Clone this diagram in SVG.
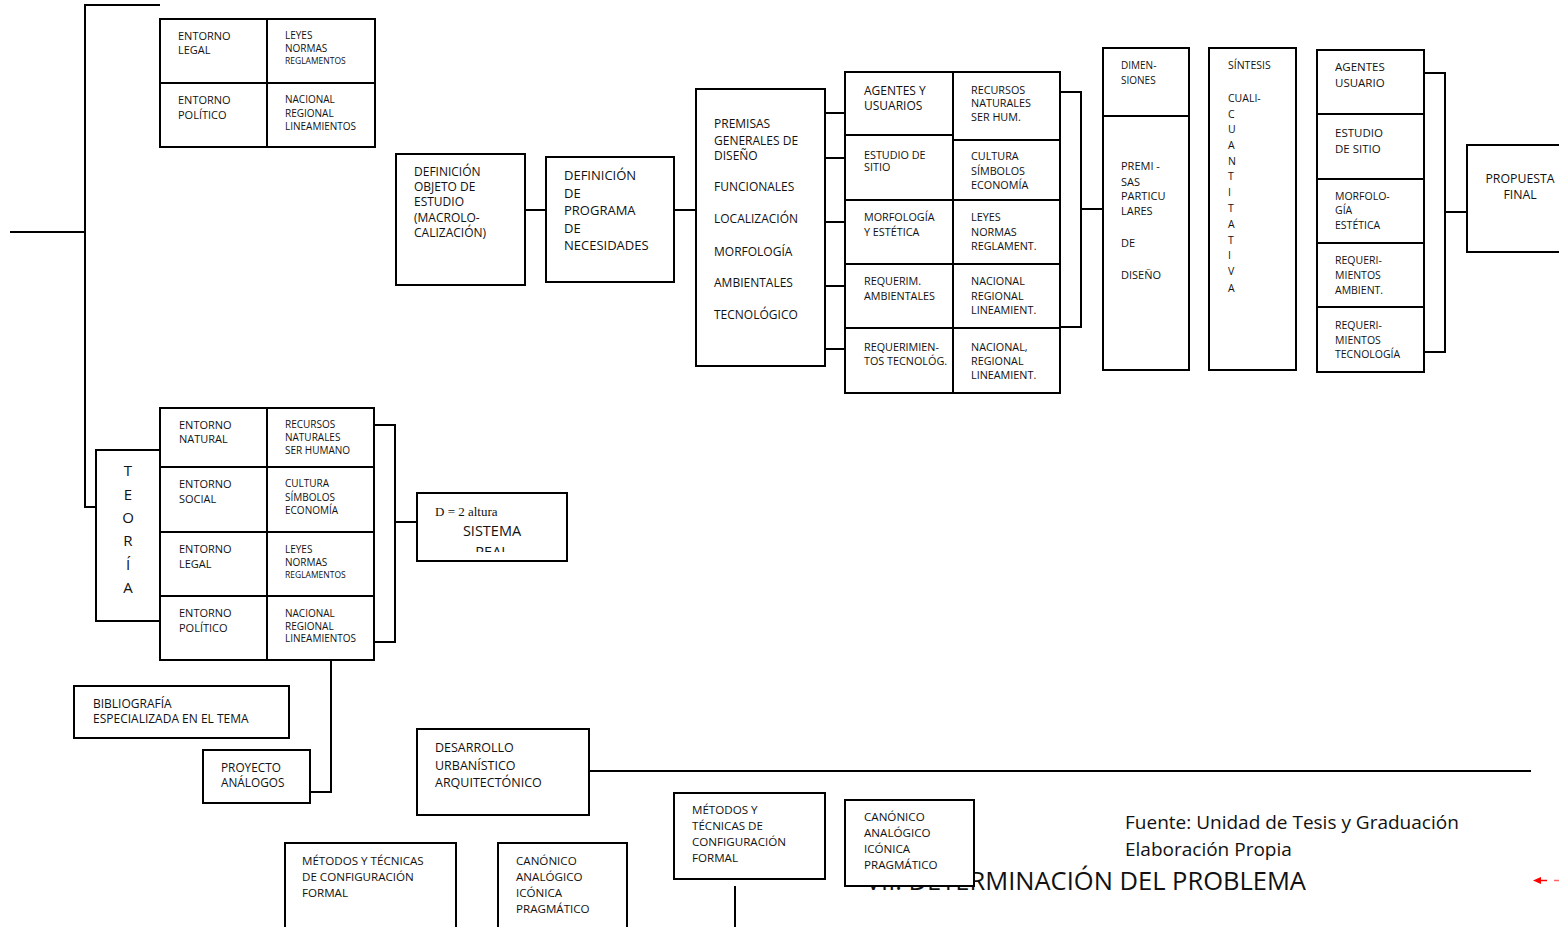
<svg xmlns="http://www.w3.org/2000/svg" width="1559" height="927" viewBox="0 0 1559 927">
<style>
.box{fill:#fff;stroke:#000;stroke-width:2}
.ln{fill:none;stroke:#000;stroke-width:2}
text{font-family:"Open Sans","Noto Sans",sans-serif;fill:#111}
.s9{font-size:8.5px}
.s10{font-size:10px}
.s105{font-size:10.5px}
.s108{font-size:10.8px}
.s11{font-size:11px}
.s115{font-size:11.5px}
.s116{font-size:11.6px}
.s12{font-size:12px}
.s125{font-size:12.5px}
.s13{font-size:13px}
</style>
<defs>
<clipPath id="sisclip"><rect x="417" y="493" width="150" height="59"/></clipPath>
</defs>
<rect width="1559" height="927" fill="#fff"/>

<g id="connectors">
<polyline class="ln" points="160,5 85,5 85,507 96,507"/>
<line class="ln" x1="10" y1="232" x2="85" y2="232"/>
<line class="ln" x1="525" y1="210" x2="546" y2="210"/>
<line class="ln" x1="674" y1="210" x2="696" y2="210"/>
<line class="ln" x1="825" y1="113" x2="845" y2="113"/>
<line class="ln" x1="825" y1="158" x2="845" y2="158"/>
<line class="ln" x1="825" y1="222" x2="845" y2="222"/>
<line class="ln" x1="825" y1="286" x2="845" y2="286"/>
<line class="ln" x1="825" y1="349" x2="845" y2="349"/>
<polyline class="ln" points="1060,92 1081,92 1081,327 1060,327"/>
<line class="ln" x1="1081" y1="209" x2="1103" y2="209"/>
<polyline class="ln" points="1424,73 1445,73 1445,352 1424,352"/>
<line class="ln" x1="1445" y1="212" x2="1467" y2="212"/>
<polyline class="ln" points="374,425 395,425 395,642 374,642"/>
<line class="ln" x1="395" y1="522" x2="417" y2="522"/>
<polyline class="ln" points="331,660 331,792 310,792"/>
<line class="ln" x1="589" y1="771" x2="1531" y2="771"/>
<line class="ln" x1="735" y1="886" x2="735" y2="927"/>
<g id="red-arrow">
<line x1="1538" y1="880.5" x2="1547" y2="880.5" stroke="#f00" stroke-width="1.5"/>
<line x1="1554" y1="880.5" x2="1559" y2="880.5" stroke="#f66" stroke-width="1.5"/>
<polygon points="1533,880.5 1541,877 1541,884" fill="#f00"/>
</g>
</g>

<g id="top-table">
<rect class="box" x="160" y="19" width="215" height="128"/>
<line class="ln" x1="267" y1="19" x2="267" y2="147"/>
<line class="ln" x1="160" y1="83" x2="375" y2="83"/>
<text class="s11"><tspan x="178" y="40">ENTORNO</tspan><tspan x="178" y="54">LEGAL</tspan></text>
<text class="s10"><tspan x="285" y="39">LEYES</tspan><tspan x="285" y="52">NORMAS</tspan><tspan x="285" y="64" class="s9">REGLAMENTOS</tspan></text>
<text class="s11"><tspan x="178" y="104">ENTORNO</tspan><tspan x="178" y="119">POLÍTICO</tspan></text>
<text class="s10"><tspan x="285" y="103">NACIONAL</tspan><tspan x="285" y="116.5">REGIONAL</tspan><tspan x="285" y="130">LINEAMIENTOS</tspan></text>
</g>

<g id="def-objeto">
<rect class="box" x="396" y="154" width="129" height="131"/>
<text class="s12"><tspan x="414" y="176">DEFINICIÓN</tspan><tspan x="414" y="191">OBJETO DE</tspan><tspan x="414" y="206">ESTUDIO</tspan><tspan x="414" y="222">(MACROLO-</tspan><tspan x="414" y="237">CALIZACIÓN)</tspan></text>
</g>

<g id="def-programa">
<rect class="box" x="546" y="157" width="128" height="125"/>
<text class="s13"><tspan x="564" y="180">DEFINICIÓN</tspan><tspan x="564" y="198">DE</tspan><tspan x="564" y="215">PROGRAMA</tspan><tspan x="564" y="233">DE</tspan><tspan x="564" y="250">NECESIDADES</tspan></text>
</g>

<g id="premisas-generales">
<rect class="box" x="696" y="89" width="129" height="277"/>
<text class="s12"><tspan x="714" y="128">PREMISAS</tspan><tspan x="714" y="144.5">GENERALES  DE</tspan><tspan x="714" y="159.5">DISEÑO</tspan><tspan x="714" y="191">FUNCIONALES</tspan><tspan x="714" y="223">LOCALIZACIÓN</tspan><tspan x="714" y="256">MORFOLOGÍA</tspan><tspan x="714" y="287">AMBIENTALES</tspan><tspan x="714" y="319">TECNOLÓGICO</tspan></text>
</g>

<g id="premisas-table">
<rect class="box" x="845" y="72" width="215" height="321"/>
<line class="ln" x1="953" y1="72" x2="953" y2="393"/>
<line class="ln" x1="845" y1="135" x2="953" y2="135"/>
<line class="ln" x1="953" y1="140" x2="1060" y2="140"/>
<line class="ln" x1="845" y1="200" x2="1060" y2="200"/>
<line class="ln" x1="845" y1="264" x2="1060" y2="264"/>
<line class="ln" x1="845" y1="328" x2="1060" y2="328"/>
<text class="s12"><tspan x="864" y="95">AGENTES Y</tspan><tspan x="864" y="109.5">USUARIOS</tspan></text>
<text class="s108"><tspan x="971" y="94">RECURSOS</tspan><tspan x="971" y="107">NATURALES</tspan><tspan x="971" y="120.5">SER  HUM.</tspan></text>
<text class="s108"><tspan x="864" y="158.5">ESTUDIO DE</tspan><tspan x="864" y="171">SITIO</tspan></text>
<text class="s108"><tspan x="971" y="160">CULTURA</tspan><tspan x="971" y="174.5">SÍMBOLOS</tspan><tspan x="971" y="188.5">ECONOMÍA</tspan></text>
<text class="s108"><tspan x="864" y="220.5">MORFOLOGÍA</tspan><tspan x="864" y="236">Y ESTÉTICA</tspan></text>
<text class="s108"><tspan x="971" y="220.5">LEYES</tspan><tspan x="971" y="235.5">NORMAS</tspan><tspan x="971" y="249.5">REGLAMENT.</tspan></text>
<text class="s108"><tspan x="864" y="284.5">REQUERIM.</tspan><tspan x="864" y="299.5">AMBIENTALES</tspan></text>
<text class="s108"><tspan x="971" y="284.5">NACIONAL</tspan><tspan x="971" y="299.5">REGIONAL</tspan><tspan x="971" y="314">LINEAMIENT.</tspan></text>
<text class="s108"><tspan x="864" y="350.5">REQUERIMIEN-</tspan><tspan x="864" y="365">TOS TECNOLÓG.</tspan></text>
<text class="s108"><tspan x="971" y="350.5">NACIONAL,</tspan><tspan x="971" y="365">REGIONAL</tspan><tspan x="971" y="379">LINEAMIENT.</tspan></text>
</g>

<g id="dimensiones">
<rect class="box" x="1103" y="48" width="86" height="322"/>
<line class="ln" x1="1103" y1="116" x2="1189" y2="116"/>
<text class="s10"><tspan x="1121" y="69">DIMEN-</tspan><tspan x="1121" y="84">SIONES</tspan></text>
<text class="s11"><tspan x="1121" y="170">PREMI -</tspan><tspan x="1121" y="186">SAS</tspan><tspan x="1121" y="200">PARTICU</tspan><tspan x="1121" y="215">LARES</tspan><tspan x="1121" y="246.5">DE</tspan><tspan x="1121" y="278.5">DISEÑO</tspan></text>
</g>

<g id="sintesis">
<rect class="box" x="1209" y="48" width="87" height="322"/>
<text class="s105"><tspan x="1228" y="69">SÍNTESIS</tspan><tspan x="1228" y="101.5">CUALI-</tspan><tspan x="1228" y="117.5">C</tspan><tspan x="1228" y="133">U</tspan><tspan x="1228" y="149">A</tspan><tspan x="1228" y="164.5">N</tspan><tspan x="1228" y="180">T</tspan><tspan x="1228" y="196">I</tspan><tspan x="1228" y="212">T</tspan><tspan x="1228" y="227.5">A</tspan><tspan x="1228" y="243.5">T</tspan><tspan x="1228" y="259">I</tspan><tspan x="1228" y="275">V</tspan><tspan x="1228" y="291.5">A</tspan></text>
</g>

<g id="agentes-col">
<rect class="box" x="1317" y="50" width="107" height="322"/>
<line class="ln" x1="1317" y1="114" x2="1424" y2="114"/>
<line class="ln" x1="1317" y1="179" x2="1424" y2="179"/>
<line class="ln" x1="1317" y1="243" x2="1424" y2="243"/>
<line class="ln" x1="1317" y1="307" x2="1424" y2="307"/>
<text class="s115"><tspan x="1335" y="71">AGENTES</tspan><tspan x="1335" y="87">USUARIO</tspan></text>
<text class="s115"><tspan x="1335" y="137">ESTUDIO</tspan><tspan x="1335" y="152.5">DE SITIO</tspan></text>
<text class="s105"><tspan x="1335" y="200">MORFOLO-</tspan><tspan x="1335" y="214">GÍA</tspan><tspan x="1335" y="228.5">ESTÉTICA</tspan></text>
<text class="s105"><tspan x="1335" y="264">REQUERI-</tspan><tspan x="1335" y="279">MIENTOS</tspan><tspan x="1335" y="293.5">AMBIENT.</tspan></text>
<text class="s105"><tspan x="1335" y="328.5">REQUERI-</tspan><tspan x="1335" y="343.5">MIENTOS</tspan><tspan x="1335" y="357.5">TECNOLOGÍA</tspan></text>
</g>

<g id="propuesta">
<rect class="box" x="1467" y="145" width="110" height="107"/>
<text font-size="12.3" text-anchor="middle"><tspan x="1520" y="182.5">PROPUESTA</tspan><tspan x="1520" y="198.5">FINAL</tspan></text>
</g>

<g id="teoria">
<rect class="box" x="96" y="450" width="64" height="171"/>
<text font-size="15" text-anchor="middle"><tspan x="128" y="476">T</tspan><tspan x="128" y="500">E</tspan><tspan x="128" y="523">O</tspan><tspan x="128" y="546">R</tspan><tspan x="128" y="570">Í</tspan><tspan x="128" y="593">A</tspan></text>
</g>

<g id="teoria-table">
<rect class="box" x="160" y="408" width="214" height="252"/>
<line class="ln" x1="267" y1="408" x2="267" y2="660"/>
<line class="ln" x1="160" y1="467" x2="374" y2="467"/>
<line class="ln" x1="160" y1="532" x2="374" y2="532"/>
<line class="ln" x1="160" y1="596" x2="374" y2="596"/>
<text class="s11"><tspan x="179" y="429">ENTORNO</tspan><tspan x="179" y="443">NATURAL</tspan></text>
<text class="s10"><tspan x="285" y="428">RECURSOS</tspan><tspan x="285" y="441">NATURALES</tspan><tspan x="285" y="454">SER HUMANO</tspan></text>
<text class="s11"><tspan x="179" y="488">ENTORNO</tspan><tspan x="179" y="503">SOCIAL</tspan></text>
<text class="s10"><tspan x="285" y="487">CULTURA</tspan><tspan x="285" y="500.5">SÍMBOLOS</tspan><tspan x="285" y="514">ECONOMÍA</tspan></text>
<text class="s11"><tspan x="179" y="552.5">ENTORNO</tspan><tspan x="179" y="567.5">LEGAL</tspan></text>
<text class="s10"><tspan x="285" y="552.5">LEYES</tspan><tspan x="285" y="565.5">NORMAS</tspan><tspan x="285" y="577.5" class="s9">REGLAMENTOS</tspan></text>
<text class="s11"><tspan x="179" y="617">ENTORNO</tspan><tspan x="179" y="631.5">POLÍTICO</tspan></text>
<text class="s10"><tspan x="285" y="616.5">NACIONAL</tspan><tspan x="285" y="629.5">REGIONAL</tspan><tspan x="285" y="642">LINEAMIENTOS</tspan></text>
</g>

<g id="sistema-real">
<rect class="box" x="417" y="493" width="150" height="68"/>
<text x="435" y="516" font-size="13" style="font-family:'Liberation Serif',serif">D = 2 altura</text>
<g clip-path="url(#sisclip)">
<text font-size="14.5" text-anchor="middle"><tspan x="492" y="535.5">SISTEMA</tspan><tspan x="492" y="557">REAL</tspan></text>
</g>
</g>

<g id="bibliografia">
<rect class="box" x="74" y="686" width="215" height="52"/>
<text class="s12"><tspan x="93" y="708">BIBLIOGRAFÍA</tspan><tspan x="93" y="723">ESPECIALIZADA EN EL TEMA</tspan></text>
</g>

<g id="proyecto">
<rect class="box" x="203" y="750" width="107" height="53"/>
<text font-size="11.8"><tspan x="221" y="772">PROYECTO</tspan><tspan x="221" y="787">ANÁLOGOS</tspan></text>
</g>

<g id="desarrollo">
<rect class="box" x="417" y="729" width="172" height="86"/>
<text class="s125"><tspan x="435" y="751.5">DESARROLLO</tspan><tspan x="435" y="769.5">URBANÍSTICO</tspan><tspan x="435" y="786.5">ARQUITECTÓNICO</tspan></text>
</g>

<g id="metodos-1">
<rect class="box" x="285" y="843" width="171" height="100"/>
<text class="s116"><tspan x="302" y="865">MÉTODOS Y TÉCNICAS</tspan><tspan x="302" y="881">DE CONFIGURACIÓN</tspan><tspan x="302" y="897">FORMAL</tspan></text>
</g>

<g id="canonico-1">
<rect class="box" x="498" y="843" width="129" height="100"/>
<text class="s116"><tspan x="516" y="865">CANÓNICO</tspan><tspan x="516" y="881">ANALÓGICO</tspan><tspan x="516" y="897">ICÓNICA</tspan><tspan x="516" y="913">PRAGMÁTICO</tspan></text>
</g>

<g id="metodos-2">
<rect class="box" x="674" y="793" width="151" height="86"/>
<text class="s116"><tspan x="692" y="814">MÉTODOS Y</tspan><tspan x="692" y="830">TÉCNICAS DE</tspan><tspan x="692" y="846">CONFIGURACIÓN</tspan><tspan x="692" y="862">FORMAL</tspan></text>
</g>

<g id="title">
<text x="1306" y="890" font-size="25.5" text-anchor="end">VII. DETERMINACIÓN DEL PROBLEMA</text>
</g>

<g id="canonico-2">
<rect class="box" x="845" y="800" width="129" height="86"/>
<text class="s116"><tspan x="864" y="821">CANÓNICO</tspan><tspan x="864" y="837">ANALÓGICO</tspan><tspan x="864" y="853">ICÓNICA</tspan><tspan x="864" y="869">PRAGMÁTICO</tspan></text>
</g>

<g id="fuente">
<text font-size="19"><tspan x="1125" y="829">Fuente: Unidad de Tesis y Graduación</tspan><tspan x="1125" y="856">Elaboración Propia</tspan></text>
</g>
</svg>
